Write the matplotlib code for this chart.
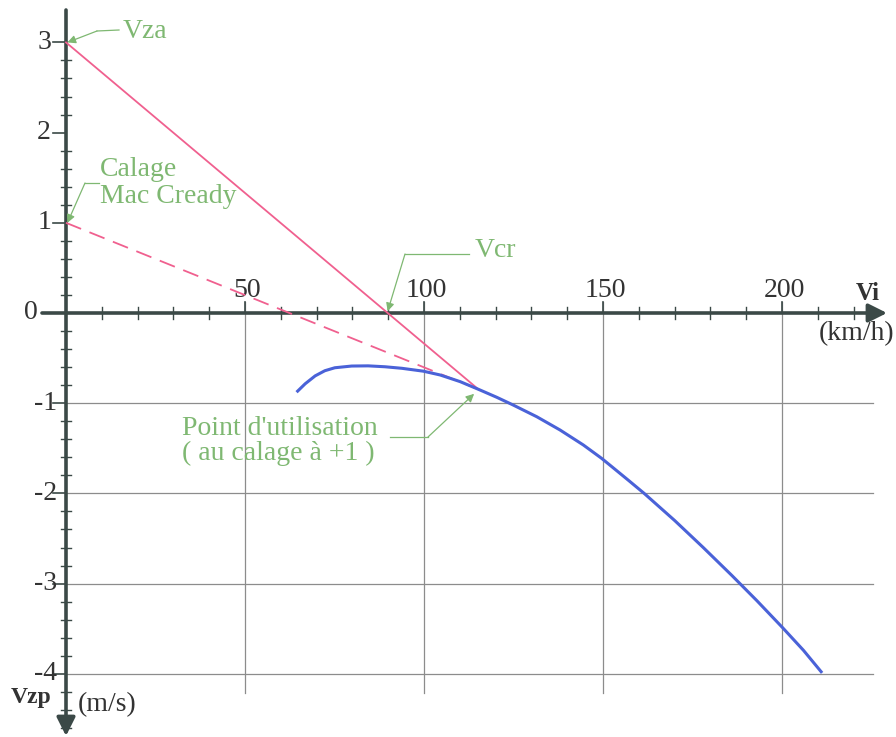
import matplotlib.pyplot as plt

# --- polar curve (Vi km/h, Vzp m/s) ---
polar_vi = [64.4, 66.8, 69.6, 72.3, 75.1, 79.8, 84.4, 89.1, 93.8, 99.8,
            104.5, 110.1, 115.2, 120.3, 124.9, 131.5, 138.0, 144.5, 149.6,
            152.9, 157.2, 161.5, 170, 178, 186, 193, 200.2, 206, 211.2]
polar_vz = [-0.878, -0.785, -0.697, -0.640, -0.607, -0.588, -0.586, -0.596,
            -0.613, -0.645, -0.687, -0.761, -0.846, -0.934, -1.020, -1.150,
            -1.297, -1.463, -1.611, -1.718, -1.858, -2.0, -2.30, -2.60, -2.91,
            -3.19, -3.49, -3.74, -3.99]

vza = 3.0           # Vz air mass
mc = 1.0            # Mac Cready setting
point_vi, point_vz = 115.2, -0.846   # point d'utilisation
vcr = vza * point_vi / (vza - point_vz)

x_major = [50, 100, 150, 200]
y_major = [3, 2, 1, 0, -1, -2, -3, -4]

axis_col = "#3b4947"
grid_col = "#8c8c8c"
pink = "#f0608f"
blue = "#4a62d8"
green = "#7fb872"
serif = "Liberation Serif"


# pixel helpers (layout only)
def px(p):
    return (p - 66) / 3.58


def py(p):
    return (313 - p) / 90.2


fig = plt.figure(figsize=(8.96, 7.37), dpi=100)
ax = fig.add_axes([0, 0, 1, 1])
ax.set_xlim(px(0), px(896))
ax.set_ylim(py(737), py(0))
ax.axis("off")

# grid
for v in x_major:
    ax.plot([v, v], [py(302), py(693)], color=grid_col, lw=0.9, zorder=1)
for v in y_major:
    if v < 0:
        ax.plot([0, px(873)], [v, v], color=grid_col, lw=0.9, zorder=1)

# axes with arrows
ax.annotate("", xy=(px(887), 0), xytext=(px(42), 0),
            arrowprops=dict(arrowstyle="-|>", lw=2.6, color=axis_col,
                            mutation_scale=28, shrinkA=0, shrinkB=0), zorder=3)
ax.annotate("", xy=(0, py(736)), xytext=(0, py(10)),
            arrowprops=dict(arrowstyle="-|>", lw=2.6, color=axis_col,
                            mutation_scale=28, shrinkA=0, shrinkB=0), zorder=3)

# ticks on x axis
for v in range(10, 230, 10):
    if v in x_major:
        ax.plot([v, v], [py(302), 0], color=axis_col, lw=1.2, zorder=3)
    else:
        ax.plot([v, v], [py(307), py(319)], color=axis_col, lw=1.0, zorder=3)
for v in x_major:
    ax.text(v + 0.6, py(297), str(v), fontsize=20, family=serif,
            color="#333333", ha="center", va="baseline")

# ticks on y axis
for i in range(-23, 16):
    v = i / 5
    if i % 5 == 0:
        ax.plot([px(53), 0], [v, v], color=axis_col, lw=1.2, zorder=3)
    else:
        ax.plot([px(61), px(71)], [v, v], color=axis_col, lw=1.0, zorder=3)
for v in y_major:
    if v > 0:
        xr = px(51)
    elif v == 0:
        xr = px(38)
    else:
        xr = px(57)
    ax.text(xr, v, str(v), fontsize=20, family=serif, color="#333333",
            ha="right", va="center")

# axis titles
ax.text(px(856), py(300), "Vi", fontsize=18, family=serif, weight="bold",
        color="#333333", va="baseline")
ax.text(px(819), py(340), "(km/h)", fontsize=20, family=serif,
        color="#333333", va="baseline")
ax.text(px(11), py(703), "Vzp", fontsize=17, family=serif, weight="bold",
        color="#333333", va="baseline")
ax.text(px(78), py(711), "(m/s)", fontsize=20, family=serif,
        color="#333333", va="baseline")

# lines
ax.plot([0, point_vi], [vza, point_vz], color=pink, lw=1.3, zorder=4)
ax.plot([0, point_vi], [mc, point_vz], color=pink, lw=1.3, zorder=4,
        dashes=(9, 5))
ax.plot(polar_vi, polar_vz, color=blue, lw=2.2, zorder=5,
        solid_joinstyle="round", solid_capstyle="butt")

# annotations
arrow = dict(arrowstyle="-|>", lw=0.9, color=green, mutation_scale=12,
             shrinkA=0, shrinkB=0)


def leader(text_xy, elbow, tip, start, lines, gap=0):
    ax.plot([start[0], elbow[0]], [start[1], elbow[1]], color=green, lw=0.9,
            zorder=6)
    ax.annotate("", xy=tip, xytext=elbow, arrowprops=arrow, zorder=6)
    for k, s in enumerate(lines):
        ax.text(text_xy[0], text_xy[1] - k * gap, s, fontsize=20,
                family=serif, color=green, va="baseline")


leader((px(123), py(38.5)), (px(97), py(31)), (0.4, vza),
       (px(119), py(30)), ["Vza"])
leader((px(100), py(176.5)), (px(85), py(183)), (0.4, mc),
       (px(99), py(183)), ["Calage", "Mac Cready"], gap=py(176.5) - py(203.5))
leader((px(475), py(257)), (px(405), py(254)), (vcr, 0.02),
       (px(469), py(254)), ["Vcr"])
leader((px(182), py(435)), (px(428), py(437)), (point_vi - 1.2, point_vz - 0.05),
       (px(390), py(437)), ["Point d'utilisation", "( au calage à +1 )"],
       gap=py(435) - py(460))

fig.savefig("out.png", dpi=100)
